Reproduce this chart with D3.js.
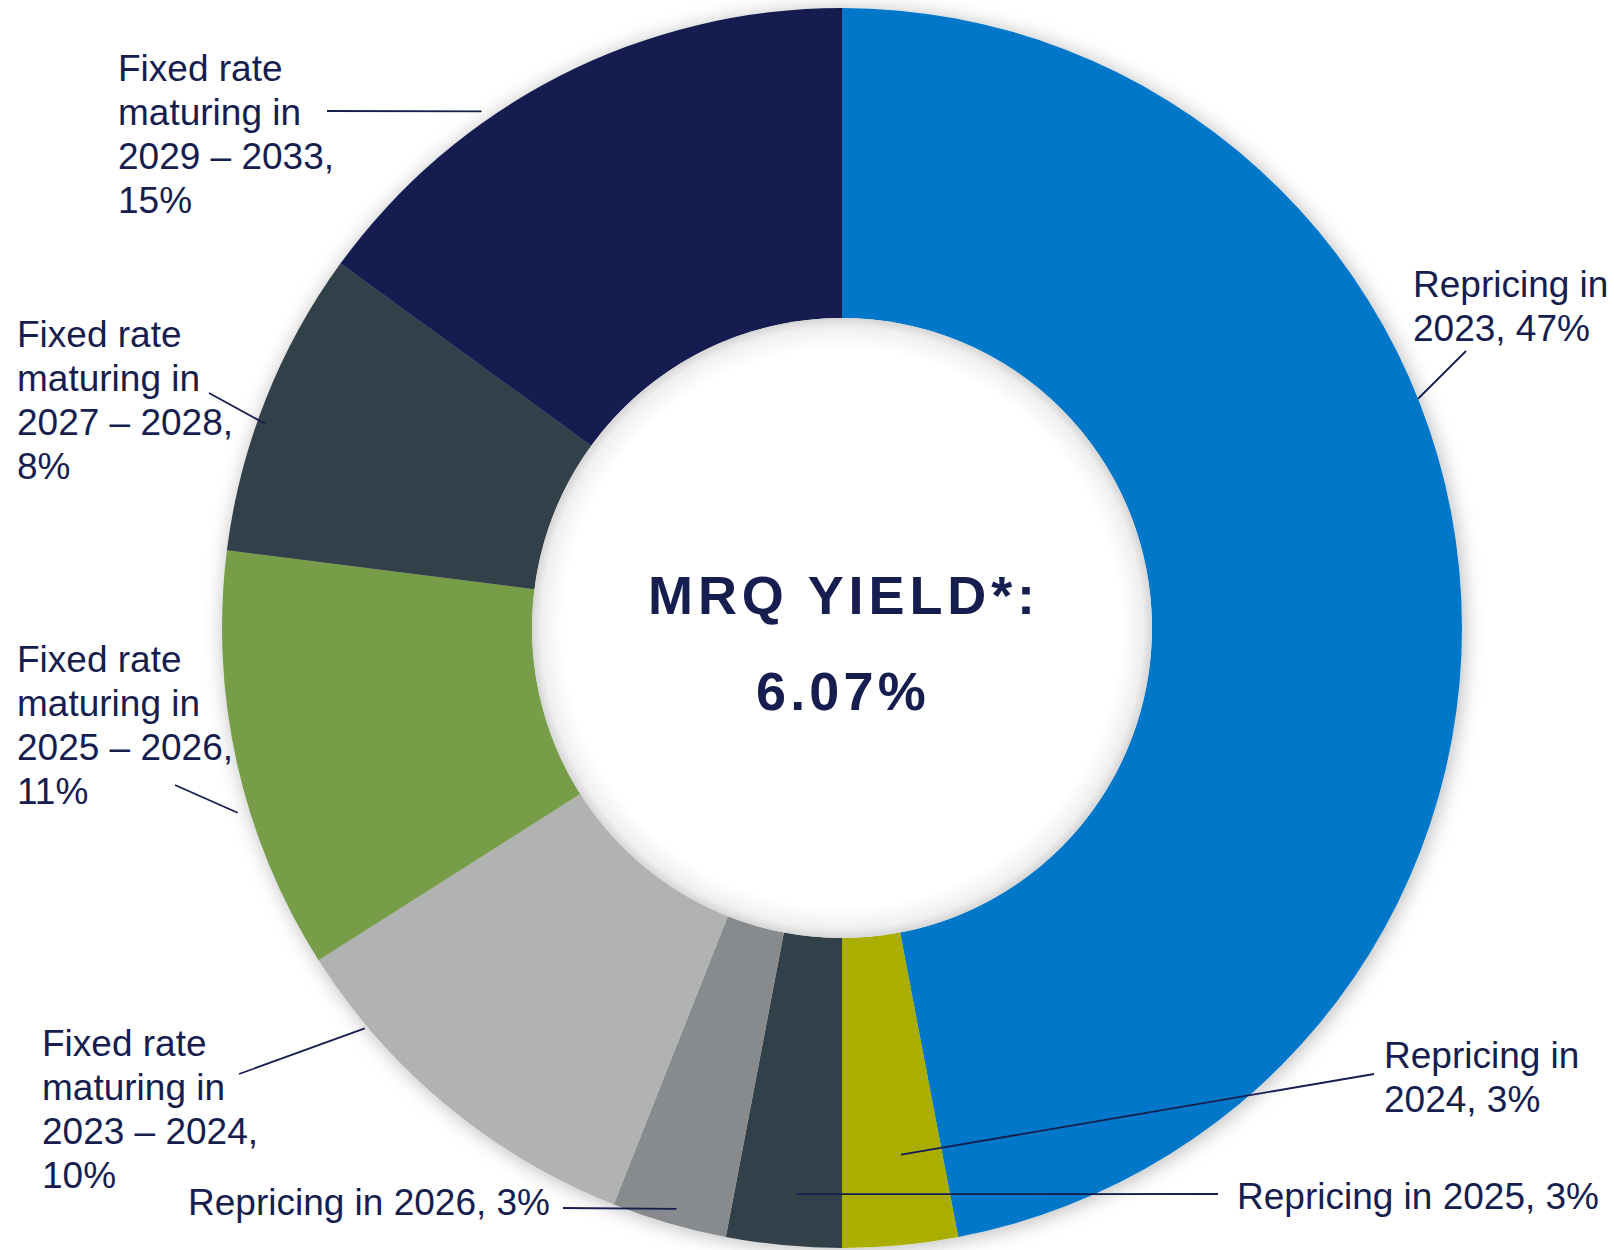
<!DOCTYPE html>
<html lang="en">
<head>
  <meta charset="UTF-8" />
  <title>MRQ Yield donut</title>
  <script src="https://d3js.org/d3.v7.min.js"></script>
  <style>
    * { margin: 0; padding: 0; box-sizing: border-box; }
    body { background: #fff; font-family: 'Liberation Sans', Arial, sans-serif; }
    svg { display: block; }
  </style>
</head>
<body>
  <svg id="chart" width="1614" height="1250"></svg>

  <script>
    // data, clockwise from 12 o'clock
    const names = [
      'Repricing in 2023', 'Repricing in 2024', 'Repricing in 2025', 'Repricing in 2026',
      'Fixed rate maturing in 2023 – 2024', 'Fixed rate maturing in 2025 – 2026',
      'Fixed rate maturing in 2027 – 2028', 'Fixed rate maturing in 2029 – 2033'
    ];
    const shares = [47, 3, 3, 3, 10, 11, 8, 15];
    const labelLines = [
      ['Repricing in', '2023, 47%'],
      ['Repricing in', '2024, 3%'],
      ['Repricing in 2025, 3%'],
      ['Repricing in 2026, 3%'],
      ['Fixed rate', 'maturing in', '2023 – 2024,', '10%'],
      ['Fixed rate', 'maturing in', '2025 – 2026,', '11%'],
      ['Fixed rate', 'maturing in', '2027 – 2028,', '8%'],
      ['Fixed rate', 'maturing in', '2029 – 2033,', '15%']
    ];
    const colors = ['#0277c8', '#a9ae00', '#333f48', '#888b8d', '#b1b3b3', '#789d4a', '#333f48', '#121e4f'];
    const centerTitle = 'MRQ YIELD*:';
    const centerValue = '6.07%';

    // label placement: text anchor + leader (inner end given as angle/radius on the ring)
    const labelPos = [
      { x: 1413, y: 297, lx: 1466, ly: 351, a: 68.3, r: 620 },
      { x: 1384, y: 1068, lx: 1374, ly: 1074, a: 173.6, r: 530 },
      { x: 1237, y: 1209, lx: 1218, ly: 1194, a: 184.6, r: 568 },
      { x: 188, y: 1215, lx: 563, ly: 1208, a: 195.9, r: 604 },
      { x: 42, y: 1056, lx: 239, ly: 1074, a: 230.0, r: 623 },
      { x: 17, y: 672, lx: 175, ly: 785, a: 253.0, r: 632 },
      { x: 17, y: 347, lx: 209, ly: 393, a: 289.5, r: 612 },
      { x: 118, y: 81, lx: 327, ly: 111, a: 325.1, r: 630 }
    ];

    const cx = 842, cy = 628, outerR = 620, innerR = 310;
    const ink = '#161d4f';
    const lineH = 44;

    const svg = d3.select('#chart');
    const defs = svg.append('defs');

    const shadow = defs.append('filter').attr('id', 'ringShadow')
      .attr('x', '-10%').attr('y', '-10%').attr('width', '120%').attr('height', '120%');
    shadow.append('feDropShadow')
      .attr('dx', 2).attr('dy', 2)
      .attr('stdDeviation', 10)
      .attr('flood-color', '#000')
      .attr('flood-opacity', 0.28);

    const holeGrad = defs.append('radialGradient').attr('id', 'holeGrad');
    holeGrad.append('stop').attr('offset', '0.9').attr('stop-color', '#fff');
    holeGrad.append('stop').attr('offset', '0.97').attr('stop-color', '#f0f0f0');
    holeGrad.append('stop').attr('offset', '1').attr('stop-color', '#d6d6d6');

    const g = svg.append('g').attr('transform', `translate(${cx},${cy})`);

    const pie = d3.pie().sort(null).value(d => d);
    const arc = d3.arc().innerRadius(innerR).outerRadius(outerR);
    const arcs = pie(shares);

    g.append('g').attr('filter', 'url(#ringShadow)')
      .selectAll('path')
      .data(arcs)
      .join('path')
      .attr('d', arc)
      .attr('fill', (d, i) => colors[i]);

    g.append('circle').attr('r', innerR).attr('fill', 'url(#holeGrad)');

    // centre text
    g.append('text')
      .attr('x', 2).attr('y', 614 - cy)
      .attr('text-anchor', 'middle')
      .attr('font-size', 54).attr('font-weight', 700)
      .attr('letter-spacing', 4.9)
      .attr('fill', ink)
      .text(centerTitle);
    g.append('text')
      .attr('x', 1).attr('y', 710 - cy)
      .attr('text-anchor', 'middle')
      .attr('font-size', 54).attr('font-weight', 700)
      .attr('letter-spacing', 4.2)
      .attr('fill', ink)
      .text(centerValue);

    // leaders
    svg.append('g').selectAll('line')
      .data(labelPos)
      .join('line')
      .attr('x1', d => cx + d3.pointRadial(d.a * Math.PI / 180, d.r)[0])
      .attr('y1', d => cy + d3.pointRadial(d.a * Math.PI / 180, d.r)[1])
      .attr('x2', d => d.lx)
      .attr('y2', d => d.ly)
      .attr('stroke', ink)
      .attr('stroke-width', 1.8);

    // labels
    const labels = svg.append('g')
      .selectAll('text')
      .data(labelLines)
      .join('text')
      .attr('font-size', 37)
      .attr('fill', ink)
      .attr('aria-label', (d, i) => names[i]);

    labels.each(function (lines, i) {
      const p = labelPos[i];
      d3.select(this).selectAll('tspan')
        .data(lines)
        .join('tspan')
        .attr('x', p.x)
        .attr('y', (d, k) => p.y + k * lineH)
        .text(d => d);
    });
  </script>
</body>
</html>
